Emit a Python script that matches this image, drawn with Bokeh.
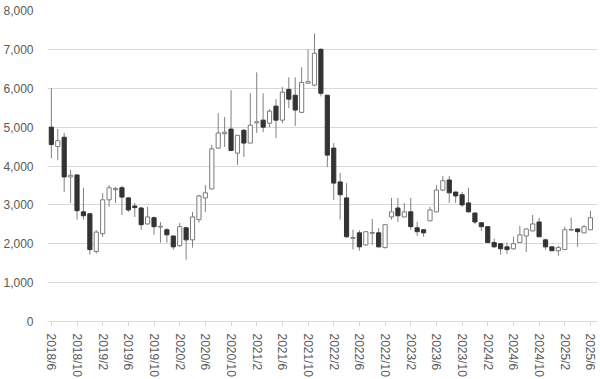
from bokeh.plotting import figure
from bokeh.models import FixedTicker, NumeralTickFormatter, ColumnDataSource, Range1d
from bokeh.embed import file_html
from bokeh.resources import INLINE

# monthly OHLC, 2018/6 .. 2025/6
opens = [5000, 4500, 4740, 3720, 3770, 2820, 2770, 1800, 2260, 3130, 3390, 3440, 3180, 2970, 2920, 2510,
         2670, 2430, 2360, 2200, 1950, 2410, 2100, 2620, 3180, 3410, 4460, 4830, 4950, 4330, 4920, 4590,
         5110, 5180, 5100, 5540, 5180, 5970, 5820, 5380, 6130, 6080, 7000, 5820, 4460, 3590, 3180, 2140,
         2280, 1970, 2270, 2280, 1900, 2690, 2920, 2690, 2820, 2410, 2360, 2590, 2820, 3380, 3640, 3330,
         3260, 3050, 2790, 2540, 2440, 2030, 2000, 1920, 1870, 2030, 2200, 2330, 2560, 2100, 1920, 1820,
         1850, 2350, 2380, 2280, 2360]
highs = [6000, 4950, 4850, 3900, 3780, 3440, 2800, 2350, 3300, 3510, 3460, 3490, 3200, 3050, 2950, 2950,
         2700, 2560, 2400, 2210, 2540, 2440, 2820, 3260, 3510, 4540, 5360, 5260, 5950, 4800, 4950, 5870,
         6410, 5870, 5460, 5720, 6030, 6280, 6280, 6540, 7000, 7410, 7030, 5830, 4590, 3820, 3560, 2360,
         2350, 2310, 2640, 2400, 2490, 3180, 3180, 3050, 3180, 2560, 2380, 2950, 3510, 3740, 3740, 3340,
         3330, 3440, 2800, 2550, 2450, 2130, 2010, 2030, 2180, 2460, 2400, 2740, 2670, 2130, 1930, 1950,
         2440, 2670, 2400, 2480, 2850]
lows = [4200, 4150, 3330, 3050, 2620, 2620, 1720, 1750, 2180, 2950, 3050, 2740, 2820, 2690, 2360, 2490,
        2230, 2030, 2030, 1850, 1920, 1590, 1900, 2540, 2820, 3400, 4440, 4490, 4400, 4030, 4230, 4590,
        4850, 4870, 5000, 4720, 5100, 5490, 5030, 5360, 6130, 6050, 5790, 3970, 3130, 2620, 2150, 1850,
        1820, 1950, 1970, 1900, 1880, 2620, 2560, 2680, 2360, 2200, 2180, 2580, 2810, 3360, 3050, 3050,
        2950, 2810, 2510, 2330, 2020, 1900, 1720, 1740, 1850, 2020, 1790, 2320, 2180, 1850, 1820, 1690,
        1840, 2330, 1920, 2270, 2350]
closes = [4550, 4650, 3720, 3760, 2850, 2720, 1850, 2300, 3130, 3440, 3420, 3200, 2870, 2930, 2490, 2690,
          2440, 2450, 2230, 1920, 2440, 2100, 2690, 3230, 3310, 4440, 4850, 4870, 4400, 4790, 4590, 5050,
          5140, 5000, 5410, 5180, 5900, 5720, 5440, 6150, 6170, 6900, 5870, 4280, 3560, 3260, 2180, 2160,
          1920, 2310, 2290, 1920, 2490, 2820, 2720, 2820, 2440, 2310, 2280, 2870, 3380, 3620, 3310, 3230,
          3000, 2820, 2560, 2440, 2030, 1920, 1870, 1850, 2000, 2230, 2380, 2510, 2180, 1920, 1820, 1900,
          2360, 2370, 2310, 2440, 2670]
tick_labels = ["2018/6", "2018/10", "2019/2", "2019/6", "2019/10", "2020/2", "2020/6", "2020/10",
               "2021/2", "2021/6", "2021/10", "2022/2", "2022/6", "2022/10", "2023/2", "2023/6",
               "2023/10", "2024/2", "2024/6", "2024/10", "2025/2", "2025/6"]
y_ticks = [0, 1000, 2000, 3000, 4000, 5000, 6000, 7000, 8000]

idx = list(range(len(opens)))
up = [c >= o for o, c in zip(opens, closes)]

def sub(mask):
    return ColumnDataSource(dict(
        x=[i for i, m in zip(idx, mask) if m],
        top=[max(o, c) for o, c, m in zip(opens, closes, mask) if m],
        bottom=[min(o, c) for o, c, m in zip(opens, closes, mask) if m],
    ))

p = figure(width=600, height=379, output_backend="svg", toolbar_location=None,
           x_range=Range1d(-0.6, 85.1), y_range=Range1d(0, 8000),
           min_border_left=43, min_border_right=3, min_border_top=10, min_border_bottom=10)
p.outline_line_color = None
p.background_fill_color = "white"

p.segment(x0=idx, y0=lows, x1=idx, y1=highs, line_color="#808080", line_width=1)
p.vbar(x="x", top="top", bottom="bottom", width=0.65, source=sub([not u for u in up]),
       fill_color="#333333", line_color="#333333", line_width=1)
p.vbar(x="x", top="top", bottom="bottom", width=0.65, source=sub(up),
       fill_color="white", line_color="#7a7a7a", line_width=1)

tick_pos = [i * 4 for i in range(len(tick_labels))]
p.xaxis.ticker = FixedTicker(ticks=tick_pos)
p.xaxis.major_label_overrides = {t: l for t, l in zip(tick_pos, tick_labels)}
p.xaxis.major_label_orientation = "vertical"
p.xaxis.axis_line_color = "#d9d9d9"
p.xaxis.major_tick_line_color = "#d9d9d9"
p.xaxis.major_tick_out = 5
p.xaxis.major_tick_in = 0
p.xaxis.minor_tick_line_color = None
p.xaxis.major_label_text_font = "Liberation Sans"
p.xaxis.major_label_text_font_size = "12px"
p.xaxis.major_label_text_color = "#595959"
p.xaxis.major_label_standoff = 7

p.yaxis.ticker = FixedTicker(ticks=y_ticks)
p.yaxis.formatter = NumeralTickFormatter(format="0,0")
p.yaxis.axis_line_color = None
p.yaxis.major_tick_line_color = None
p.yaxis.minor_tick_line_color = None
p.yaxis.major_label_text_font = "Liberation Sans"
p.yaxis.major_label_text_font_size = "12px"
p.yaxis.major_label_text_color = "#595959"
p.yaxis.major_label_standoff = 8

p.xgrid.grid_line_color = None
p.ygrid.grid_line_color = "#d9d9d9"
p.ygrid.grid_line_width = 1

open("out.html", "w").write(file_html(p, INLINE))
